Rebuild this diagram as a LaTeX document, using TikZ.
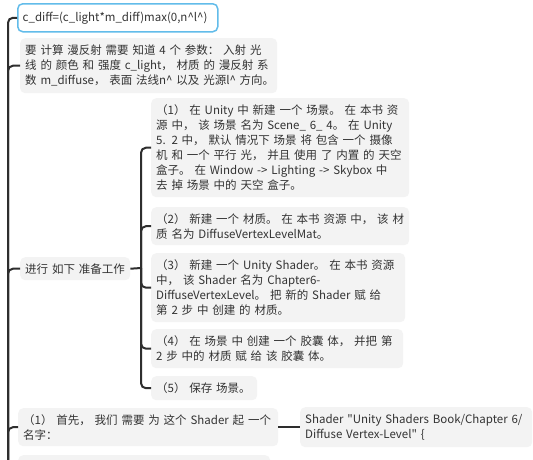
\documentclass[tikz,border=0pt]{standalone}
\usepackage{fontspec}
\setmainfont{Noto Sans CJK SC}
\definecolor{boxgray}{HTML}{F3F3F3}
\definecolor{txt}{HTML}{333333}
\definecolor{linec}{HTML}{2E2E2E}
\definecolor{selblue}{HTML}{62BCEA}
\newcommand\lineof[1]{\mbox{#1}}
\begin{document}
\begin{tikzpicture}[x=1pt,y=-1pt,
  box/.style={fill=boxgray, rounded corners=5pt, anchor=north west, inner xsep=5pt, inner ysep=0pt,
    align=left, font=\fontsize{11.5}{15}\selectfont, text=txt},
  selbox/.style={box, fill=white, draw=selblue, line width=1.5pt},
  trunk/.style={draw=linec, line width=2pt, rounded corners=5pt},
  link/.style={draw=linec, line width=2pt}]
\clip (0,0) rectangle (533,459);
\fill[white] (0,0) rectangle (533,459);

% main level nodes
\node[selbox, text width=190pt, minimum height=28pt] (n1) at (17,3)
  {\lineof{c\_diff=(c\_light*m\_diff)max(0,n\textasciicircum l\textasciicircum )}};
\node[box, text width=247pt, minimum height=55pt] (n2) at (20,38)
  {\lineof{要 计算 漫反射 需要 知道 4 个 参数： 入射 光}\\
   \lineof{线 的 颜色 和 强度 c\_light， 材质 的 漫反射 系}\\
   \lineof{数 m\_diffuse， 表面 法线n\textasciicircum{} 以及 光源l\textasciicircum{} 方向。}};
\node[box, text width=100pt, minimum height=23pt] (prep) at (20,257) {\lineof{进行 如下 准备工作}};
\node[box, text width=250pt, minimum height=38pt] (f1) at (18,408)
  {\lineof{（1） 首先， 我们 需要 为 这个 Shader 起 一个}\\ \lineof{名字：}};
\node[box, text width=222pt, minimum height=40pt] (sh) at (300,407)
  {\lineof{Shader \textquotedbl Unity Shaders Book/Chapter 6/}\\
   \lineof{Diffuse Vertex-Level\textquotedbl{} \{}};
\node[box, text width=242pt, minimum height=40pt] (n6) at (18,455) {};

% sub nodes of preparation
\node[box, text width=248pt, minimum height=99pt] (s1) at (151,98)
  {\lineof{（1） 在 Unity 中 新建 一个 场景。 在 本书 资}\\
   \lineof{源 中， 该 场景 名为 Scene\_ 6\_ 4。 在 Unity}\\
   \lineof{5. 2 中， 默认 情况下 场景 将 包含 一个 摄像}\\
   \lineof{机 和 一个 平行 光， 并且 使用 了 内置 的 天空}\\
   \lineof{盒子。 在 Window -> Lighting -> Skybox 中}\\
   \lineof{去 掉 场景 中的 天空 盒子。}};
\node[box, text width=248pt, minimum height=38pt] (s2) at (151,207)
  {\lineof{（2） 新建 一个 材质。 在 本书 资源 中， 该 材}\\
   \lineof{质 名为 DiffuseVertexLevelMat。}};
\node[box, text width=244pt, minimum height=69pt] (s3) at (151,253)
  {\lineof{（3） 新建 一个 Unity Shader。 在 本书 资源}\\
   \lineof{中， 该 Shader 名为 Chapter6-}\\
   \lineof{DiffuseVertexLevel。 把 新的 Shader 赋 给}\\
   \lineof{第 2 步 中 创建 的 材质。}};
\node[box, text width=242pt, minimum height=39pt] (s4) at (151,329)
  {\lineof{（4） 在 场景 中 创建 一个 胶囊 体， 并把 第}\\
   \lineof{2 步 中的 材质 赋 给 该 胶囊 体。}};
\node[box, text width=96pt, minimum height=24pt] (s5) at (151,376) {\lineof{（5） 保存 场景。}};

% connectors
\coordinate (root) at (8,600);
\coordinate (fork) at (141,268);
\foreach \c in {n1,n2,prep,f1,n6}
  \draw[trunk] (root) |- (\c.west);
\draw[link] (prep.east) -- (fork);
\foreach \c in {s1,s2,s3,s4,s5}
  \draw[trunk] (fork) |- (\c.west);
\draw[link] (f1.east) -- (sh.west);
\end{tikzpicture}
\end{document}
